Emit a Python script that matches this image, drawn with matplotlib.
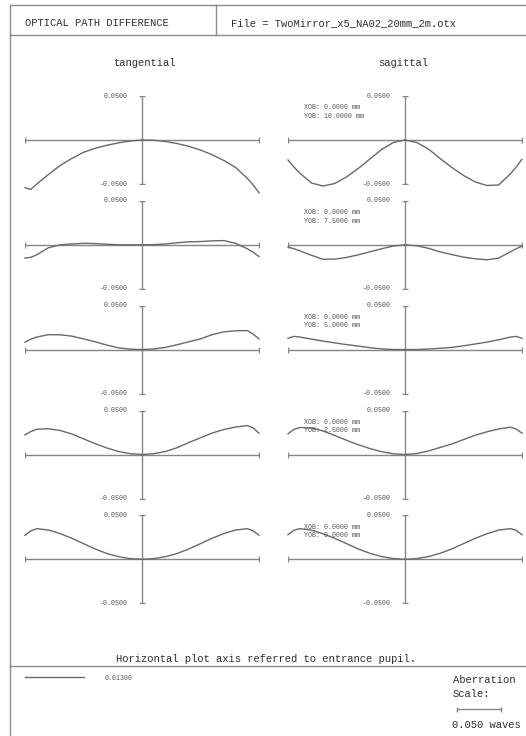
import matplotlib
matplotlib.use('Agg')
import matplotlib.pyplot as plt

# pupil coordinate (horizontal axis, normalised)
pupil = [-1.0, -0.95, -0.9, -0.8, -0.7, -0.6, -0.5, -0.4, -0.3, -0.2, -0.1, 0.0,
         0.1, 0.2, 0.3, 0.4, 0.5, 0.6, 0.7, 0.8, 0.9, 0.95, 1.0]

# field heights (mm), top row first
yob = [10.0, 7.5, 5.0, 2.5, 0.0]
xob = [0.0, 0.0, 0.0, 0.0, 0.0]

# OPD in waves, tangential fan
tan_10 = [-0.0542, -0.0562, -0.0500, -0.0392, -0.0290, -0.0210, -0.0140, -0.0094, -0.0060, -0.0032, -0.0011, 0.0,
          -0.0003, -0.0017, -0.0040, -0.0072, -0.0114, -0.0168, -0.0233, -0.0312, -0.0435, -0.0511, -0.0599]
tan_75 = [-0.0151, -0.0142, -0.0114, -0.0034, 0.0000, 0.0009, 0.0017, 0.0014, 0.0006, 0.0000, 0.0000, 0.0,
          0.0002, 0.0009, 0.0023, 0.0034, 0.0037, 0.0045, 0.0048, 0.0017, -0.0045, -0.0085, -0.0133]
tan_5 = [0.0083, 0.0119, 0.0142, 0.0170, 0.0168, 0.0153, 0.0122, 0.0089, 0.0051, 0.0020, 0.0005, 0.0,
         0.0007, 0.0025, 0.0055, 0.0089, 0.0122, 0.0170, 0.0202, 0.0214, 0.0216, 0.0176, 0.0122]
tan_25 = [0.0224, 0.0261, 0.0287, 0.0293, 0.0273, 0.0233, 0.0178, 0.0123, 0.0074, 0.0034, 0.0009, 0.0,
          0.0009, 0.0034, 0.0077, 0.0136, 0.0190, 0.0244, 0.0284, 0.0312, 0.0329, 0.0301, 0.0242]
tan_0 = [0.0273, 0.0324, 0.0348, 0.0333, 0.0293, 0.0239, 0.0178, 0.0117, 0.0066, 0.0030, 0.0008, 0.0,
         0.0008, 0.0030, 0.0066, 0.0117, 0.0178, 0.0239, 0.0293, 0.0333, 0.0348, 0.0324, 0.0273]

# OPD in waves, sagittal fan
sag_10 = [-0.0227, -0.0307, -0.0375, -0.0489, -0.0523, -0.0494, -0.0420, -0.0324, -0.0216, -0.0108, -0.0028, 0.0,
          -0.0028, -0.0102, -0.0210, -0.0312, -0.0403, -0.0477, -0.0517, -0.0511, -0.0386, -0.0307, -0.0219]
sag_75 = [-0.0026, -0.0045, -0.0068, -0.0119, -0.0165, -0.0162, -0.0144, -0.0114, -0.0080, -0.0045, -0.0014, 0.0,
          -0.0011, -0.0040, -0.0080, -0.0111, -0.0140, -0.0159, -0.0170, -0.0151, -0.0080, -0.0045, -0.0015]
sag_5 = [0.0128, 0.0150, 0.0143, 0.0119, 0.0097, 0.0076, 0.0057, 0.0040, 0.0022, 0.0008, 0.0001, 0.0,
         0.0001, 0.0007, 0.0015, 0.0025, 0.0043, 0.0064, 0.0085, 0.0111, 0.0142, 0.0150, 0.0128]
sag_25 = [0.0235, 0.0284, 0.0307, 0.0301, 0.0267, 0.0216, 0.0162, 0.0111, 0.0068, 0.0032, 0.0008, 0.0,
          0.0011, 0.0040, 0.0080, 0.0119, 0.0170, 0.0219, 0.0258, 0.0290, 0.0310, 0.0290, 0.0242]
sag_0 = [0.0280, 0.0330, 0.0348, 0.0332, 0.0290, 0.0238, 0.0178, 0.0118, 0.0068, 0.0031, 0.0008, 0.0,
         0.0008, 0.0031, 0.0068, 0.0118, 0.0178, 0.0238, 0.0290, 0.0332, 0.0348, 0.0330, 0.0280]

tangential = [tan_10, tan_75, tan_5, tan_25, tan_0]
sagittal = [sag_10, sag_75, sag_5, sag_25, sag_0]

scale = 0.05
wavelength = '0.01300'
file_name = 'TwoMirror_x5_NA02_20mm_2m.otx'

W, H = 526, 736
font = ['Liberation Mono', 'DejaVu Sans Mono']
plt.rcParams['font.family'] = font

fig = plt.figure(figsize=(W / 100, H / 100), dpi=100)
fig.patch.set_facecolor('white')

bg = fig.add_axes([0, 0, 1, 1])
bg.set_xlim(0, W)
bg.set_ylim(H, 0)
bg.axis('off')

frame = '#8c8c8c'
axis_col = '#858585'
curve_col = '#696969'
txt_big = '#2e2e2e'
txt_small = '#555555'
lw = 1.0

# page frame
bg.plot([10, W], [5, 5], color=frame, lw=lw)
bg.plot([10, 10], [5, H], color=frame, lw=lw)
bg.plot([10, W], [34.5, 34.5], color=frame, lw=lw)
bg.plot([216, 216], [5, 34.5], color=frame, lw=lw)
bg.plot([10, W], [665.5, 665.5], color=frame, lw=lw)

bg.text(25, 23.5, 'OPTICAL PATH DIFFERENCE', fontsize=7.6, color=txt_big, va='center', ha='left')
bg.text(231, 23.5, 'File = ' + file_name, fontsize=7.6, color=txt_big, va='center', ha='left')
bg.text(145, 63.5, 'tangential', fontsize=7.6, color=txt_big, va='center', ha='center')
bg.text(403, 63.5, 'sagittal', fontsize=7.6, color=txt_big, va='center', ha='center')
bg.text(266, 659.5, 'Horizontal plot axis referred to entrance pupil.', fontsize=7.6,
        color=txt_big, va='center', ha='center')

# footer: wavelength key and aberration scale
bg.plot([25, 84], [677, 677], color=curve_col, lw=lw)
bg.text(105, 678, wavelength, fontsize=4.8, color=txt_small, va='center', ha='left')
bg.text(453, 680, 'Aberration', fontsize=7.6, color=txt_big, va='center', ha='left')
bg.text(453, 694, 'Scale:', fontsize=7.6, color=txt_big, va='center', ha='left')
bg.text(452, 724.5, '%.3f waves' % scale, fontsize=7.6, color=txt_big, va='center', ha='left')

px_per_wave = 44.0 / scale
bg.plot([457, 457 + scale * px_per_wave], [708.5, 708.5], color=axis_col, lw=lw,
        marker='|', ms=3.6, mew=lw)

# panel placement in pixels
col_x = [25, 288]
panel_w = 234
zero_y = [140, 244.8, 349.6, 454.5, 559.3]
half_h = 44


def panel(x0, yz):
    ax = fig.add_axes([x0 / W, 1 - (yz + half_h) / H, panel_w / W, 2 * half_h / H])
    ax.set_xlim(-1, 1)
    ax.set_ylim(-scale, scale)
    ax.axis('off')
    ax.patch.set_alpha(0)
    ax.plot([-1, 1], [0, 0], color=axis_col, lw=lw)
    ax.plot([-1, 1], [0, 0], ls='none', marker='|', ms=3.8, mew=lw, color=axis_col)
    ax.plot([0, 0], [-scale, scale], color=axis_col, lw=lw)
    ax.plot([0, 0], [-scale, scale], ls='none', marker='_', ms=4.5, mew=lw, color=axis_col)
    ax.annotate('%.4f' % scale, xy=(0, scale), xytext=(-10, 0), textcoords='offset points',
                ha='right', va='center', fontsize=4.8, color=txt_small)
    ax.annotate('%.4f' % -scale, xy=(0, -scale), xytext=(-10, 0), textcoords='offset points',
                ha='right', va='center', fontsize=4.8, color=txt_small)
    return ax


for i in range(5):
    ax_t = panel(col_x[0], zero_y[i])
    ax_t.plot(pupil, tangential[i], color=curve_col, lw=lw, clip_on=False)

    ax_s = panel(col_x[1], zero_y[i])
    ax_s.plot(pupil, sagittal[i], color=curve_col, lw=lw, clip_on=False)
    ax_s.annotate('XOB: %.4f mm' % xob[i], xy=(-1, scale), xytext=(11.2, -8.6),
                  textcoords='offset points', ha='left', va='center', fontsize=4.8, color=txt_small)
    ax_s.annotate('YOB: %.4f mm' % yob[i], xy=(-1, scale), xytext=(11.2, -14.6),
                  textcoords='offset points', ha='left', va='center', fontsize=4.8, color=txt_small)

fig.savefig('out.png', dpi=100)
